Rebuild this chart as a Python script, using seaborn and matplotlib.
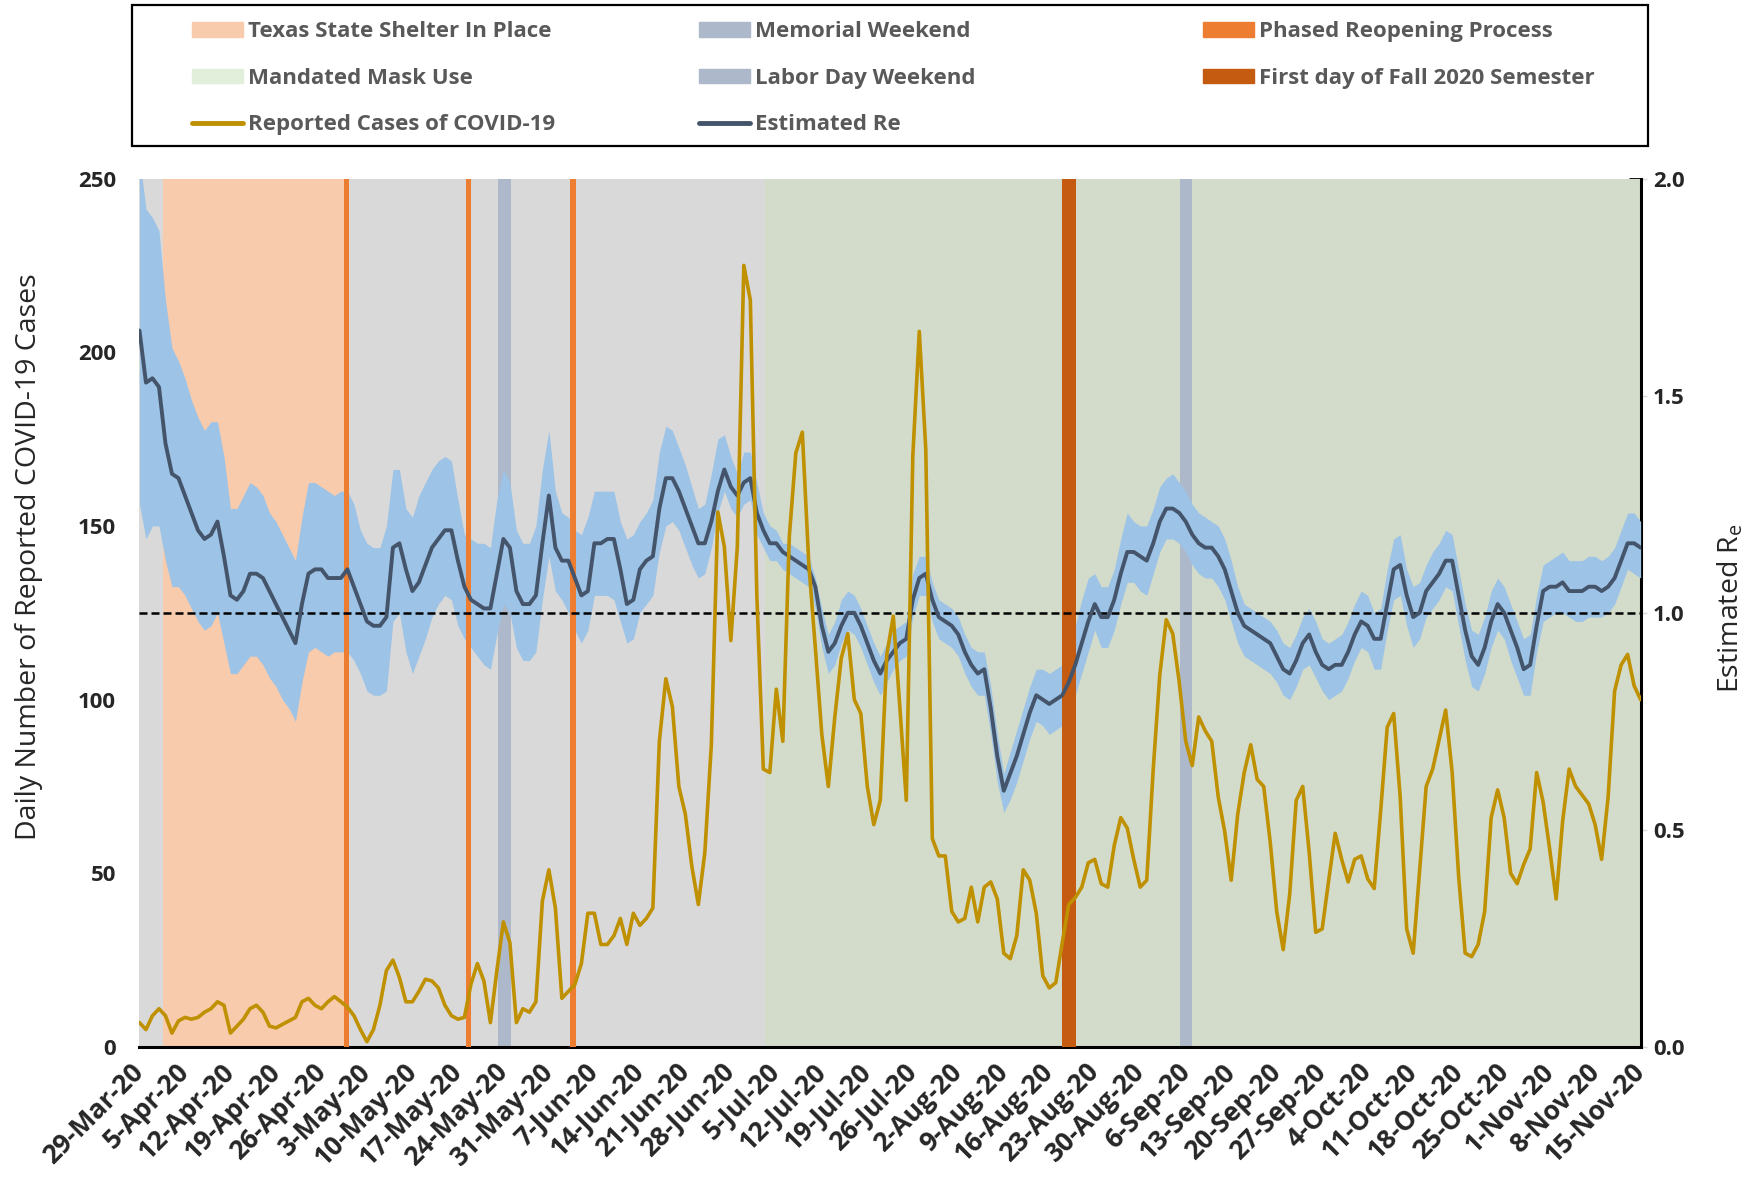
import numpy as np
import pandas as pd
import matplotlib
matplotlib.use("Agg")
import matplotlib.pyplot as plt
from matplotlib.patches import Patch, Rectangle
from matplotlib.lines import Line2D
from matplotlib.ticker import FixedLocator, FixedFormatter
import seaborn as sns

# Daily data, 29-Mar-20 .. 15-Nov-20 (232 days)
start_date = "2020-03-29"

cases = [7, 5, 9, 11, 9, 4, 7.5, 8.5, 8, 8.5,
         10, 11, 13, 12, 4, 6, 8, 11, 12, 10,
         6, 5.5, 6.5, 7.5, 8.5, 13, 14, 12, 11, 13,
         14.5, 13, 11.5, 9, 5, 1.5, 5, 12, 22, 25,
         20, 13, 13, 16, 19.5, 19, 17, 12, 9, 8,
         8.5, 18, 24, 19, 7, 22, 36, 30, 7, 11,
         10, 13, 42, 51, 40, 14, 16, 18, 24, 38.5,
         38.5, 29.5, 29.5, 32, 37, 29.5, 38.5, 35, 37, 40,
         88, 106, 98, 75, 67, 52, 41, 56, 87, 154,
         144, 117, 144, 225, 215, 130, 80, 79, 103, 88,
         147, 171, 177, 139, 115, 90, 75, 95, 112, 119,
         100, 96, 75, 64, 71, 113, 124, 98, 71, 170,
         206, 172, 60, 55, 55, 39, 36, 37, 46, 36,
         46, 47.5, 42.6, 27, 25.4, 32, 51, 48, 38.5, 20.5,
         17, 18.5, 30, 41, 43, 46, 53, 54, 47, 46,
         58, 66, 63, 54, 46, 48, 80, 107, 123, 119,
         105, 88, 81, 95, 91, 88, 72, 62, 48, 67,
         79, 87, 77, 75, 59, 39, 28, 44, 71, 75,
         56, 33, 34, 48, 61.5, 54, 47.5, 54, 55, 48.4,
         45.6, 68, 92, 96, 72, 34, 27, 51, 75, 80,
         88.5, 97, 79, 49, 27, 26, 29.5, 39, 66, 74,
         66, 50, 47, 52.5, 57, 79, 70.5, 57, 42.6, 65,
         80, 75, 72.5, 70, 64, 54, 72, 102.5, 110, 113,
         104, 100]

re_est = [1.65, 1.53, 1.54, 1.52, 1.39, 1.32, 1.31, 1.27, 1.23, 1.19,
          1.17, 1.18, 1.21, 1.13, 1.04, 1.03, 1.05, 1.09, 1.09, 1.08,
          1.05, 1.02, 0.99, 0.96, 0.93, 1.02, 1.09, 1.10, 1.10, 1.08,
          1.08, 1.08, 1.10, 1.06, 1.02, 0.98, 0.97, 0.97, 0.99, 1.15,
          1.16, 1.10, 1.05, 1.07, 1.11, 1.15, 1.17, 1.19, 1.19, 1.12,
          1.06, 1.03, 1.02, 1.01, 1.01, 1.09, 1.17, 1.15, 1.05, 1.02,
          1.02, 1.04, 1.16, 1.27, 1.15, 1.12, 1.12, 1.08, 1.04, 1.05,
          1.16, 1.16, 1.17, 1.17, 1.10, 1.02, 1.03, 1.10, 1.12, 1.13,
          1.24, 1.31, 1.31, 1.28, 1.24, 1.20, 1.16, 1.16, 1.21, 1.28,
          1.33, 1.29, 1.27, 1.30, 1.31, 1.23, 1.19, 1.16, 1.16, 1.14,
          1.13, 1.12, 1.11, 1.10, 1.06, 0.97, 0.91, 0.93, 0.97, 1.00,
          1.00, 0.97, 0.93, 0.89, 0.86, 0.89, 0.91, 0.93, 0.94, 1.03,
          1.08, 1.09, 1.03, 0.99, 0.98, 0.97, 0.95, 0.91, 0.88, 0.86,
          0.87, 0.78, 0.67, 0.59, 0.63, 0.67, 0.72, 0.77, 0.81, 0.80,
          0.79, 0.80, 0.81, 0.84, 0.88, 0.93, 0.98, 1.02, 0.99, 0.99,
          1.03, 1.09, 1.14, 1.14, 1.13, 1.12, 1.16, 1.21, 1.24, 1.24,
          1.23, 1.21, 1.18, 1.16, 1.15, 1.15, 1.13, 1.10, 1.05, 1.00,
          0.97, 0.96, 0.95, 0.94, 0.93, 0.90, 0.87, 0.86, 0.89, 0.93,
          0.95, 0.91, 0.88, 0.87, 0.88, 0.88, 0.91, 0.95, 0.98, 0.97,
          0.94, 0.94, 1.02, 1.10, 1.11, 1.04, 0.99, 1.00, 1.05, 1.07,
          1.09, 1.12, 1.12, 1.04, 0.96, 0.90, 0.88, 0.92, 0.98, 1.02,
          1.00, 0.96, 0.92, 0.87, 0.88, 0.97, 1.05, 1.06, 1.06, 1.07,
          1.05, 1.05, 1.05, 1.06, 1.06, 1.05, 1.06, 1.08, 1.12, 1.16,
          1.16, 1.15]

re_upper = [2.05, 1.93, 1.91, 1.88, 1.72, 1.61, 1.58, 1.54, 1.49, 1.45,
            1.42, 1.44, 1.44, 1.36, 1.24, 1.24, 1.27, 1.30, 1.29, 1.27,
            1.23, 1.21, 1.18, 1.15, 1.12, 1.22, 1.30, 1.30, 1.29, 1.28,
            1.27, 1.28, 1.28, 1.25, 1.19, 1.16, 1.15, 1.15, 1.20, 1.33,
            1.33, 1.24, 1.22, 1.27, 1.30, 1.33, 1.35, 1.36, 1.35, 1.26,
            1.18, 1.17, 1.16, 1.16, 1.15, 1.26, 1.33, 1.30, 1.19, 1.16,
            1.16, 1.20, 1.33, 1.42, 1.28, 1.23, 1.22, 1.19, 1.18, 1.22,
            1.28, 1.28, 1.28, 1.28, 1.21, 1.17, 1.18, 1.21, 1.23, 1.26,
            1.37, 1.43, 1.42, 1.38, 1.34, 1.29, 1.24, 1.25, 1.32, 1.40,
            1.41, 1.36, 1.32, 1.37, 1.37, 1.30, 1.23, 1.20, 1.19, 1.16,
            1.16, 1.15, 1.14, 1.13, 1.08, 1.01, 0.95, 0.98, 1.03, 1.05,
            1.04, 1.01, 0.97, 0.93, 0.90, 0.93, 0.96, 0.97, 0.98, 1.09,
            1.13, 1.13, 1.07, 1.03, 1.02, 1.01, 0.99, 0.95, 0.92, 0.91,
            0.91, 0.83, 0.72, 0.63, 0.68, 0.73, 0.78, 0.83, 0.87, 0.87,
            0.86, 0.87, 0.88, 0.92, 0.97, 1.03, 1.08, 1.09, 1.06, 1.06,
            1.10, 1.17, 1.23, 1.21, 1.20, 1.20, 1.24, 1.29, 1.31, 1.32,
            1.30, 1.28, 1.25, 1.23, 1.22, 1.21, 1.20, 1.17, 1.12, 1.06,
            1.02, 1.01, 1.00, 0.99, 0.98, 0.96, 0.93, 0.92, 0.95, 0.99,
            1.01, 0.98, 0.94, 0.93, 0.94, 0.95, 0.98, 1.02, 1.05, 1.04,
            1.00, 1.01, 1.10, 1.17, 1.18, 1.10, 1.06, 1.07, 1.11, 1.14,
            1.16, 1.19, 1.18, 1.10, 1.02, 0.96, 0.95, 0.99, 1.05, 1.08,
            1.06, 1.02, 0.98, 0.94, 0.95, 1.04, 1.11, 1.12, 1.13, 1.14,
            1.12, 1.12, 1.12, 1.13, 1.13, 1.12, 1.13, 1.15, 1.19, 1.23,
            1.23, 1.21]

re_lower = [1.25, 1.17, 1.20, 1.20, 1.12, 1.06, 1.06, 1.04, 1.01, 0.98,
            0.96, 0.97, 1.00, 0.93, 0.86, 0.86, 0.88, 0.90, 0.90, 0.88,
            0.85, 0.83, 0.80, 0.78, 0.75, 0.84, 0.91, 0.92, 0.91, 0.90,
            0.91, 0.91, 0.91, 0.89, 0.86, 0.82, 0.81, 0.81, 0.82, 0.98,
            1.00, 0.91, 0.86, 0.90, 0.94, 0.99, 1.02, 1.04, 1.03, 0.97,
            0.94, 0.92, 0.90, 0.88, 0.87, 0.95, 1.02, 1.00, 0.92, 0.89,
            0.89, 0.91, 1.03, 1.13, 1.05, 1.03, 1.00, 0.96, 0.93, 0.96,
            1.04, 1.04, 1.04, 1.03, 0.98, 0.93, 0.94, 1.00, 1.02, 1.04,
            1.14, 1.20, 1.21, 1.19, 1.15, 1.11, 1.08, 1.09, 1.15, 1.23,
            1.28, 1.24, 1.22, 1.25, 1.26, 1.18, 1.15, 1.12, 1.12, 1.10,
            1.09, 1.08, 1.07, 1.06, 1.01, 0.92, 0.86, 0.88, 0.93, 0.96,
            0.95, 0.92, 0.88, 0.84, 0.81, 0.84, 0.87, 0.89, 0.90, 0.99,
            1.04, 1.04, 0.98, 0.94, 0.93, 0.92, 0.90, 0.86, 0.83, 0.81,
            0.81, 0.72, 0.61, 0.54, 0.57, 0.61, 0.66, 0.71, 0.75, 0.74,
            0.72, 0.73, 0.74, 0.77, 0.81, 0.86, 0.91, 0.96, 0.92, 0.92,
            0.96, 1.02, 1.07, 1.07, 1.05, 1.04, 1.09, 1.14, 1.17, 1.17,
            1.16, 1.14, 1.11, 1.09, 1.08, 1.08, 1.06, 1.03, 0.98, 0.93,
            0.90, 0.89, 0.88, 0.87, 0.86, 0.84, 0.81, 0.80, 0.83, 0.87,
            0.88, 0.85, 0.82, 0.80, 0.81, 0.82, 0.85, 0.89, 0.92, 0.91,
            0.87, 0.87, 0.96, 1.03, 1.04, 0.97, 0.92, 0.94, 0.99, 1.01,
            1.03, 1.06, 1.05, 0.97, 0.89, 0.83, 0.82, 0.86, 0.92, 0.96,
            0.94, 0.89, 0.85, 0.81, 0.81, 0.91, 0.98, 0.99, 1.00, 1.00,
            0.99, 0.98, 0.98, 0.99, 0.99, 0.99, 1.00, 1.02, 1.06, 1.10,
            1.09, 1.08]

# event periods, in days since 29-Mar-20 (start, end)
shelter_in_place = (3.6, 31.4)
mask_mandate = (96.2, 231)
memorial_weekend = (55.2, 57.2)
labor_day_weekend = (160.1, 161.9)
phased_reopening = [(31.4, 32.3), (50.2, 51.0), (66.2, 67.1)]
fall_semester = (142.0, 144.1)

days = np.arange(len(cases))
df = pd.DataFrame({"day": days, "cases": cases, "re": re_est,
                   "lo": re_lower, "hi": re_upper})
tick_days = days[::7]
tick_labels = [(pd.Timestamp(start_date) + pd.Timedelta(days=int(d))).strftime("%-d-%b-%y")
               for d in tick_days]

sns.set_style("white")
plt.rcParams["font.family"] = ["Open Sans", "DejaVu Sans"]

fig = plt.figure(figsize=(17.5, 11.85), dpi=100)
ax = fig.add_axes([0.0797, 0.1165, 0.8578, 0.7328])
ax.set_facecolor("#d9d9d9")
ax.set_xlim(0, 231)
ax.set_ylim(0, 2.0)

# background periods
ax.axvspan(*shelter_in_place, color="#f8cbad", lw=0, zorder=1)
ax.axvspan(*mask_mandate, color="#d3dccb", lw=0, zorder=1)
ax.axvspan(*memorial_weekend, color="#adb9ca", lw=0, zorder=2)
ax.axvspan(*labor_day_weekend, color="#adb9ca", lw=0, zorder=2)

# Re with confidence band
ax.fill_between(df["day"], df["lo"], df["hi"], color="#9dc3e6", lw=0, zorder=3)
for s, e in phased_reopening:
    ax.axvspan(s, e, color="#ed7d31", lw=0, zorder=4)
ax.axvspan(*fall_semester, color="#c55a11", lw=0, zorder=4)
ax.axhline(1.0, color="black", lw=1.8, dashes=(3.2, 1.6), zorder=5)
sns.lineplot(data=df, x="day", y="re", color="#44546a", lw=2.8, ax=ax, zorder=6)

# cases on the twin axis (left side)
ax2 = ax.twinx()
sns.lineplot(data=df, x="day", y="cases", color="#bf9000", lw=2.6, ax=ax2)
ax2.set_ylim(0, 250)
ax2.yaxis.tick_left()
ax2.yaxis.set_label_position("left")
ax2.set_yticks([0, 50, 100, 150, 200, 250])
ax2.tick_params(axis="y", length=0, pad=17, labelsize=16)
for lab in ax2.get_yticklabels():
    lab.set_fontweight("bold")
ax2.set_ylabel("Daily Number of Reported COVID-19 Cases", fontsize=20.5)
ax2.yaxis.set_label_coords(-0.064, 0.565)
for sp in ax2.spines.values():
    sp.set_visible(False)

# right Re axis: tick marks every 0.4, labels every 0.5
ax.yaxis.tick_right()
ax.yaxis.set_label_position("right")
ax.yaxis.set_major_locator(FixedLocator([0, 0.4, 0.8, 1.2, 1.6, 2.0]))
ax.yaxis.set_major_formatter(FixedFormatter([""] * 6))
ax.yaxis.set_minor_locator(FixedLocator([0, 0.5, 1.0, 1.5, 2.0]))
ax.yaxis.set_minor_formatter(FixedFormatter(["0.0", "0.5", "1.0", "1.5", "2.0"]))
ax.yaxis.remove_overlapping_locs = False
ax.tick_params(axis="y", which="major", direction="in", length=9, width=2, color="black")
ax.tick_params(axis="y", which="minor", direction="out", length=4, width=1, color="#d9d9d9",
               pad=5, labelsize=16)
for lab in ax.get_yticklabels(minor=True):
    lab.set_fontweight("bold")
ax.set_ylabel(r"Estimated R$_\mathregular{e}$", fontsize=20.5)
ax.yaxis.set_label_coords(1.05, 0.505)

ax.set_xticks(tick_days)
ax.set_xticklabels(tick_labels, rotation=45, ha="right", va="center",
                   rotation_mode="anchor", fontsize=19, fontweight="bold")
ax.tick_params(axis="x", direction="out", length=7, width=2, color="black", pad=8)
ax.set_xlabel("")
ax.spines["left"].set_visible(False)
ax.spines["top"].set_visible(False)
ax.spines["bottom"].set_linewidth(2.2)
ax.spines["right"].set_linewidth(2.2)
ax.spines["bottom"].set_color("black")
ax.spines["right"].set_color("black")
ax2.set_zorder(ax.get_zorder() + 1)
ax2.patch.set_visible(False)

# legend box on top, three columns
fig.add_artist(Rectangle((0.0754, 0.8768), 0.8663, 0.119, transform=fig.transFigure,
                         fill=False, ec="black", lw=1.6))
columns = [
    ([Patch(color="#f8cbad"), Patch(color="#e2efda"), Line2D([], [], color="#bf9000", lw=3.5)],
     ["Texas State Shelter In Place", "Mandated Mask Use", "Reported Cases of COVID-19"], 0.1097),
    ([Patch(color="#adb9ca"), Patch(color="#adb9ca"), Line2D([], [], color="#44546a", lw=3.5)],
     ["Memorial Weekend", "Labor Day Weekend", "Estimated Re"], 0.3994),
    ([Patch(color="#ed7d31"), Patch(color="#c55a11")],
     ["Phased Reopening Process", "First day of Fall 2020 Semester"], 0.6874),
]
for handles, labels, x0 in columns:
    fig.legend(handles, labels, loc="upper left", bbox_to_anchor=(x0, 0.982),
               frameon=False, borderpad=0, borderaxespad=0, handlelength=2.3,
               handleheight=0.65, handletextpad=0.2, labelspacing=1.15,
               prop={"family": "Open Sans", "weight": "bold", "size": 16},
               labelcolor="#595959")

fig.savefig("out.png", dpi=100)
